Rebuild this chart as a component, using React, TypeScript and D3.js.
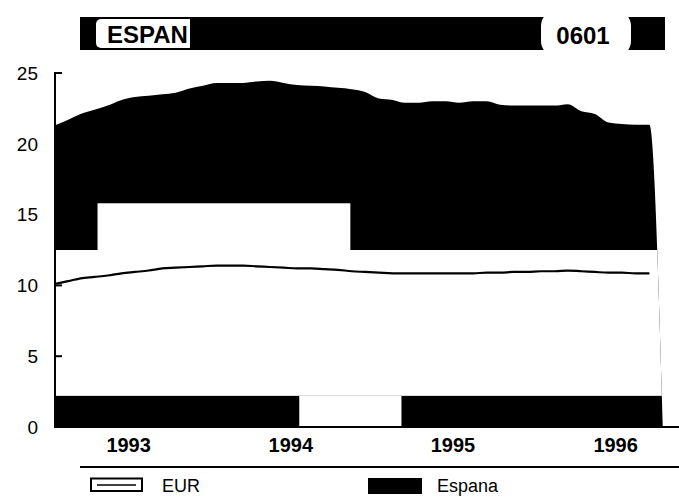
import React from "react";
import * as d3 from "d3";

// ---- data (monthly, mid-month, starting Jan 1993) ----
const espana = [
  21.3, 21.7, 22.1, 22.4, 22.7, 23.1, 23.3, 23.4, 23.5, 23.6, 23.9, 24.1,
  24.3, 24.3, 24.3, 24.4, 24.45, 24.3, 24.15, 24.1, 24.05, 23.95, 23.85, 23.65,
  23.2, 23.1, 22.9, 22.9, 23.0, 23.0, 22.9, 23.0, 23.0, 22.75, 22.7, 22.7,
  22.7, 22.7, 22.8, 22.3, 22.1, 21.5, 21.4, 21.35, 21.35, 0,
];
const eur = [
  10.1, 10.3, 10.5, 10.6, 10.7, 10.85, 10.95, 11.05, 11.2, 11.25, 11.3, 11.35,
  11.4, 11.4, 11.4, 11.35, 11.3, 11.25, 11.2, 11.2, 11.15, 11.1, 11.0, 10.95,
  10.9, 10.85, 10.85, 10.85, 10.85, 10.85, 10.85, 10.85, 10.9, 10.9, 10.95, 10.95,
  11.0, 11.0, 11.05, 11.0, 10.95, 10.9, 10.9, 10.85, 10.85,
];
const startYear = 1993;
const yearLabels = ["1993", "1994", "1995", "1996"];
const yTicks = [0, 5, 10, 15, 20, 25];
// white (lost-tone) bands inside the Espana area: [from, to, low, high]
const bandFrom = ["1993-01-01", "1993-04-22", "1994-07-20"];
const bandTo = ["1996-12-31", "1994-11-12", "1995-03-07"];
const bandLow = [2.2, 12.5, 0];
const bandHigh = [12.5, 15.8, 2.2];
const titleText = "ESPAN";
const codeText = "0601";
const legendLabels = ["EUR", "Espana"];

const W = 679;
const H = 501;
const FONT = "'Liberation Sans', Arial, Helvetica, sans-serif";

export default function App() {
  const x = d3
    .scaleTime()
    .domain([new Date(1993, 0, 1), new Date(1997, 0, 1)])
    .range([48.2, 697.4]);
  const y = d3.scaleLinear().domain([0, 25]).range([427, 73]);
  const dateOf = (i: number) => new Date(startYear, i, 15);

  const area = d3
    .area<number>()
    .x((_, i) => x(dateOf(i)))
    .y0(y(0))
    .y1((d) => y(d))
    .curve(d3.curveMonotoneX);
  const areaPath = area(espana) || "";

  const line = d3
    .line<number>()
    .x((_, i) => x(dateOf(i)))
    .y((d) => y(d))
    .curve(d3.curveMonotoneX);

  const axisLeft = x(new Date(1993, 0, 1)) + 6.8;

  return (
    <svg width={W} height={H} style={{ position: "absolute", left: 0, top: 0, background: "#fff" }}>
      <rect x={0} y={0} width={W} height={H} fill="#fff" />
      <defs>
        <clipPath id="espClip">
          <path d={areaPath} />
        </clipPath>
      </defs>

      {/* title */}
      <rect x={80} y={17} width={585} height={33} fill="#000" />
      <rect x={96} y={19} width={98} height={29} rx={5} fill="#fff" />
      <text x={107} y={43} fontFamily={FONT} fontWeight="bold" fontSize={24} fill="#000">
        {titleText}
      </text>
      <rect x={190} y={17} width={12} height={33} fill="#000" />
      <rect x={541} y={10} width={90} height={47} rx={16} fill="#fff" />
      <text x={583} y={44} textAnchor="middle" fontFamily={FONT} fontWeight="bold" fontSize={24} fill="#000">
        {codeText}
      </text>

      {/* Espana area */}
      <path d={areaPath} fill="#000" />
      <g clipPath="url(#espClip)">
        {bandFrom.map((f, i) => {
          const x0 = x(new Date(f));
          const x1 = x(new Date(bandTo[i]));
          return (
            <rect
              key={i}
              x={x0}
              y={y(bandHigh[i])}
              width={x1 - x0}
              height={y(bandLow[i]) - y(bandHigh[i])}
              fill="#fff"
            />
          );
        })}
      </g>

      {/* EUR line */}
      <path d={line(eur) || ""} fill="none" stroke="#000" strokeWidth={2.2} />

      {/* axes */}
      <line x1={axisLeft} x2={axisLeft} y1={y(25) - 1} y2={y(0) + 1} stroke="#000" strokeWidth={2} />
      {yTicks.map((t) => (
        <g key={t}>
          <line x1={axisLeft} x2={axisLeft + 7} y1={y(t)} y2={y(t)} stroke="#000" strokeWidth={2} />
          <text
            x={38}
            y={y(t)}
            dy="0.36em"
            textAnchor="end"
            fontFamily={FONT}
            fontSize={19}
            fill="#000"
          >
            {t}
          </text>
        </g>
      ))}
      <line x1={axisLeft - 1} x2={W} y1={y(0)} y2={y(0)} stroke="#000" strokeWidth={2} />
      {yearLabels.map((yl, i) => (
        <text
          key={yl}
          x={x(new Date(startYear + i, 6, 1))}
          y={452}
          textAnchor="middle"
          fontFamily={FONT}
          fontWeight="bold"
          fontSize={20}
          fill="#000"
        >
          {yl}
        </text>
      ))}

      {/* legend */}
      <line x1={80} x2={W} y1={467} y2={467} stroke="#000" strokeWidth={2} />
      <rect x={91} y={478.5} width={51} height={12.5} fill="#fff" stroke="#000" strokeWidth={2} />
      <line x1={97} x2={136} y1={485} y2={485} stroke="#000" strokeWidth={1.5} />
      <text x={162} y={492} fontFamily={FONT} fontSize={18} fill="#000">
        {legendLabels[0]}
      </text>
      <rect x={368} y={478} width={54} height={16} fill="#000" />
      <text x={437} y={492} fontFamily={FONT} fontSize={18} fill="#000">
        {legendLabels[1]}
      </text>
    </svg>
  );
}
